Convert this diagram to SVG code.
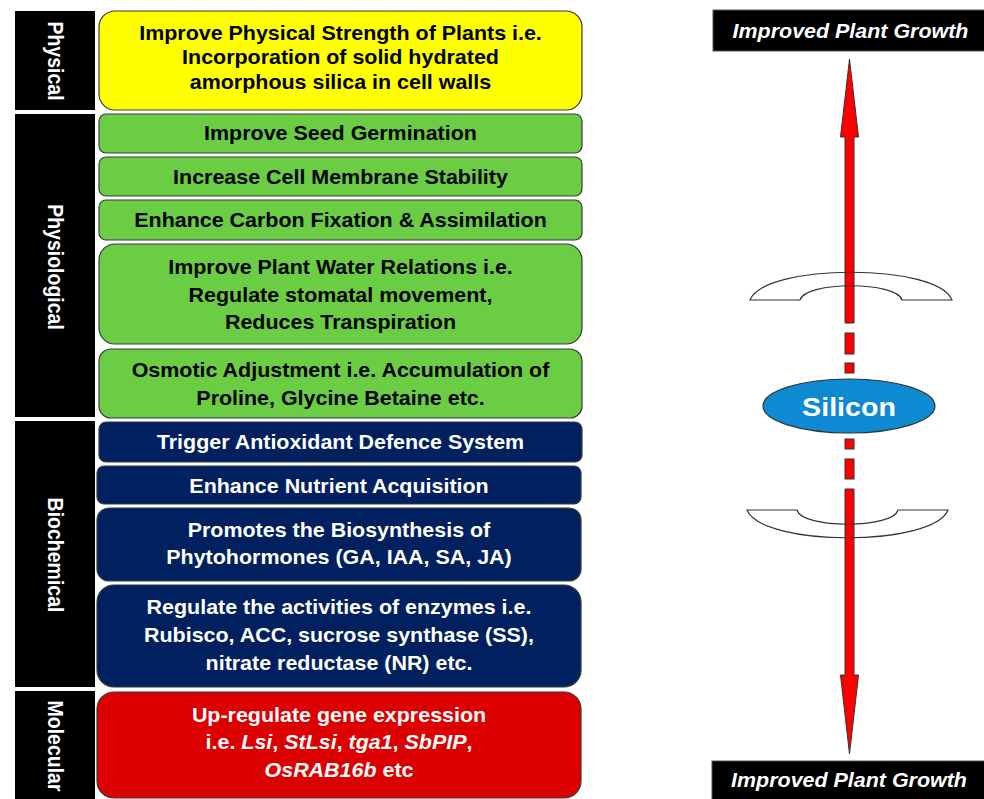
<svg xmlns="http://www.w3.org/2000/svg" width="984" height="799" viewBox="0 0 984 799">
<style>
.lab{fill:#000}
.labt{font-family:"Liberation Sans",Arial,Helvetica,sans-serif;font-weight:bold;font-size:19.5px;fill:#fff;text-anchor:middle}
.box{stroke:#3a3a3a;stroke-width:1.2}
.yel{fill:#ffff00}
.grn{fill:#6acd44}
.nav{fill:#002060}
.red{fill:#dd0000}
.t{font-family:"Liberation Sans",Arial,Helvetica,sans-serif;font-weight:bold;font-size:19.5px;text-anchor:middle}
.dk{fill:#000}
.wt{fill:#fff}
.it{font-style:italic}
.arr{fill:#ff0000;stroke:#333;stroke-width:1}
.cres{fill:#fff;stroke:none}
.cresl{fill:none;stroke:#333;stroke-width:1.2}
.gr{font-family:"Liberation Sans",Arial,Helvetica,sans-serif;font-weight:bold;font-style:italic;font-size:19.5px;fill:#fff;text-anchor:middle}
</style>

<!-- category labels -->
<g id="label-physical">
<rect class="lab" x="15" y="11" width="80" height="99"/>
<text class="labt" transform="translate(56,61) scale(1.1,1) rotate(90)" x="0" y="7">Physical</text>
</g>
<g id="label-physiological">
<rect class="lab" x="15" y="114" width="80" height="303"/>
<text class="labt" transform="translate(56,267) scale(1.1,1) rotate(90)" x="0" y="7">Physiological</text>
</g>
<g id="label-biochemical">
<rect class="lab" x="15" y="421" width="80" height="266"/>
<text class="labt" transform="translate(56,555) scale(1.1,1) rotate(90)" x="0" y="7">Biochemical</text>
</g>
<g id="label-molecular">
<rect class="lab" x="15" y="691" width="80" height="108"/>
<text class="labt" transform="translate(56,746) scale(1.1,1) rotate(90)" x="0" y="7">Molecular</text>
</g>

<!-- boxes -->
<g id="node-physical-strength">
<rect class="box yel" x="99" y="11" width="483" height="99" rx="16"/>
<text class="t dk" transform="translate(340.5,0) scale(1.1,1)"><tspan x="0" y="40">Improve Physical Strength of Plants i.e.</tspan><tspan x="0" y="64.5">Incorporation of solid hydrated</tspan><tspan x="0" y="89">amorphous silica in cell walls</tspan></text>
</g>
<g id="node-seed">
<rect class="box grn" x="99" y="114" width="483" height="39" rx="7"/>
<text class="t dk" transform="translate(340.5,0) scale(1.1,1)" x="0" y="140">Improve Seed Germination</text>
</g>
<g id="node-membrane">
<rect class="box grn" x="99" y="157" width="483" height="39" rx="7"/>
<text class="t dk" transform="translate(340.5,0) scale(1.1,1)" x="0" y="184">Increase Cell Membrane Stability</text>
</g>
<g id="node-carbon">
<rect class="box grn" x="99" y="200" width="483" height="40" rx="7"/>
<text class="t dk" transform="translate(340.5,0) scale(1.1,1)" x="0" y="227">Enhance Carbon Fixation &amp; Assimilation</text>
</g>
<g id="node-water">
<rect class="box grn" x="99" y="244" width="483" height="100" rx="16"/>
<text class="t dk" transform="translate(340.5,0) scale(1.1,1)"><tspan x="0" y="274">Improve Plant Water Relations i.e.</tspan><tspan x="0" y="302">Regulate stomatal movement,</tspan><tspan x="0" y="329">Reduces Transpiration</tspan></text>
</g>
<g id="node-osmotic">
<rect class="box grn" x="99" y="349" width="483" height="69" rx="12"/>
<text class="t dk" transform="translate(340.5,0) scale(1.1,1)"><tspan x="0" y="377">Osmotic Adjustment i.e. Accumulation of</tspan><tspan x="0" y="405">Proline, Glycine Betaine etc.</tspan></text>
</g>
<g id="node-antioxidant">
<rect class="box nav" x="99" y="422" width="483" height="40" rx="7"/>
<text class="t wt" transform="translate(340.5,0) scale(1.1,1)" x="0" y="449">Trigger Antioxidant Defence System</text>
</g>
<g id="node-nutrient">
<rect class="box nav" x="97" y="466" width="484" height="38" rx="7"/>
<text class="t wt" transform="translate(339,0) scale(1.1,1)" x="0" y="493">Enhance Nutrient Acquisition</text>
</g>
<g id="node-phytohormones">
<rect class="box nav" x="97" y="508" width="484" height="73" rx="12"/>
<text class="t wt" transform="translate(339,0) scale(1.1,1)"><tspan x="0" y="537">Promotes the Biosynthesis of</tspan><tspan x="0" y="564">Phytohormones (GA, IAA, SA, JA)</tspan></text>
</g>
<g id="node-enzymes">
<rect class="box nav" x="97" y="585" width="484" height="102" rx="17"/>
<text class="t wt" transform="translate(339,0) scale(1.1,1)"><tspan x="0" y="614">Regulate the activities of enzymes i.e.</tspan><tspan x="0" y="642">Rubisco, ACC, sucrose synthase (SS),</tspan><tspan x="0" y="670">nitrate reductase (NR) etc.</tspan></text>
</g>
<g id="node-gene">
<rect class="box red" x="97" y="692" width="484" height="106" rx="17"/>
<text class="t wt" transform="translate(339,0) scale(1.1,1)"><tspan x="0" y="722">Up-regulate gene expression</tspan><tspan x="0" y="749">i.e. <tspan class="it">Lsi</tspan>, <tspan class="it">StLsi</tspan>, <tspan class="it">tga1</tspan>, <tspan class="it">SbPIP</tspan>,</tspan><tspan x="0" y="777"><tspan class="it">OsRAB16b</tspan> etc</tspan></text>
</g>

<!-- right side -->
<g id="node-growth-top">
<rect x="713" y="10" width="272" height="41" fill="#000" stroke="#555" stroke-width="1"/>
<text class="gr" transform="translate(850.5,0) scale(1.1,1)" x="0" y="38">Improved Plant Growth</text>
</g>
<g id="node-growth-bottom">
<rect x="712" y="761" width="273" height="39" fill="#000" stroke="#555" stroke-width="1"/>
<text class="gr" transform="translate(849,0) scale(1.1,1)" x="0" y="787">Improved Plant Growth</text>
</g>

<g id="crescent-fills">
<path class="cres" d="M750,300 L800,300 C805,281 897,281 902,300 L952,300 C937,263 765,263 750,300 Z"/>
<path class="cres" d="M747,510 L797,510 C802,529 893,529 898,510 L948,510 C933,547 762,547 747,510 Z"/>
</g>

<g id="connectors">
<path class="arr" d="M849.5,59 L858.5,137 L854,137 L854,323 L845,323 L845,137 L840.5,137 Z"/>
<rect class="arr" x="845" y="333" width="9" height="21"/>
<rect class="arr" x="845" y="363" width="9" height="10"/>
<rect class="arr" x="845" y="439" width="9" height="10"/>
<rect class="arr" x="845" y="459" width="9" height="20"/>
<path class="arr" d="M845,489 L854,489 L854,675 L858.5,675 L849.5,754 L840.5,675 L845,675 Z"/>
</g>

<g id="crescent-upper">
<path class="cresl" d="M750,300 L800,300 C805,281 897,281 902,300 L952,300 C937,263 765,263 750,300 Z"/>
</g>
<g id="crescent-lower">
<path class="cresl" d="M747,510 L797,510 C802,529 893,529 898,510 L948,510 C933,547 762,547 747,510 Z"/>
</g>

<g id="node-silicon">
<ellipse cx="849" cy="406" rx="86" ry="27" fill="#0e8ad2" stroke="#333" stroke-width="1.2"/>
<text transform="translate(849,0) scale(1.1,1)" x="0" y="416" font-family="Liberation Sans, Arial, sans-serif" font-weight="bold" font-size="26" fill="#fff" text-anchor="middle">Silicon</text>
</g>
</svg>
